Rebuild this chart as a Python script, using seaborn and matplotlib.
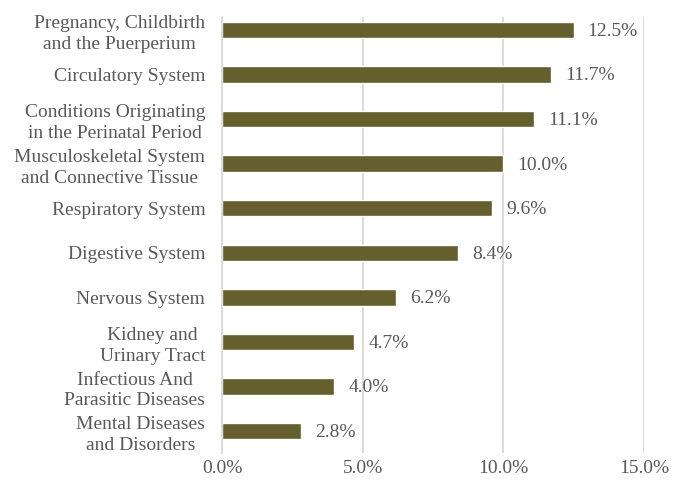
import numpy as np
import pandas as pd
import matplotlib
matplotlib.use('Agg')
import matplotlib.pyplot as plt
import seaborn as sns

# chart data
categories = ['Pregnancy, Childbirth\nand the Puerperium',
              'Circulatory System',
              'Conditions Originating\nin the Perinatal Period',
              'Musculoskeletal System\nand Connective Tissue',
              'Respiratory System',
              'Digestive System',
              'Nervous System',
              'Kidney and\nUrinary Tract',
              'Infectious And\nParasitic Diseases',
              'Mental Diseases\nand Disorders']
shares = [12.5, 11.7, 11.1, 10.0, 9.6, 8.4, 6.2, 4.7, 4.0, 2.8]
xticks = [0, 5, 10, 15]

df = pd.DataFrame({'category': categories, 'share': shares})

sns.set_style('white')
plt.rcParams['font.family'] = ['Liberation Serif', 'DejaVu Serif']

fig, ax = plt.subplots(figsize=(6.85, 4.87), dpi=100)
fig.subplots_adjust(left=0.324, right=0.940, top=0.965, bottom=0.070)

sns.barplot(data=df, x='share', y='category', orient='h', color='#655E2D',
            saturation=1, width=0.37, ax=ax)

ax.set_xlim(0, 15)
ax.set_ylim(9.49, -0.29)
ax.set_xticks(xticks)
ax.set_xticklabels(['%.1f%%' % t for t in xticks], fontsize=14, color='#595959')
ax.set_xlabel('')
ax.set_ylabel('')
ax.grid(axis='x', color='#d9d9d9', linewidth=1.3)
ax.set_axisbelow(True)
for s in ['top', 'right', 'bottom']:
    ax.spines[s].set_visible(False)
ax.spines['left'].set_color('#d9d9d9')
ax.spines['left'].set_linewidth(1.3)
ax.tick_params(axis='x', length=0, pad=5)
ax.tick_params(axis='y', length=0, pad=12)

for lbl in ax.get_yticklabels():
    lbl.set_fontsize(14)
    lbl.set_color('#595959')
    lbl.set_multialignment('center')
    lbl.set_linespacing(1.3)

for i, v in enumerate(shares):
    ax.text(v + 0.5, i + 0.03, '%.1f%%' % v, va='center', ha='left',
            fontsize=14, color='#595959')

plt.savefig('out.png', dpi=100)
